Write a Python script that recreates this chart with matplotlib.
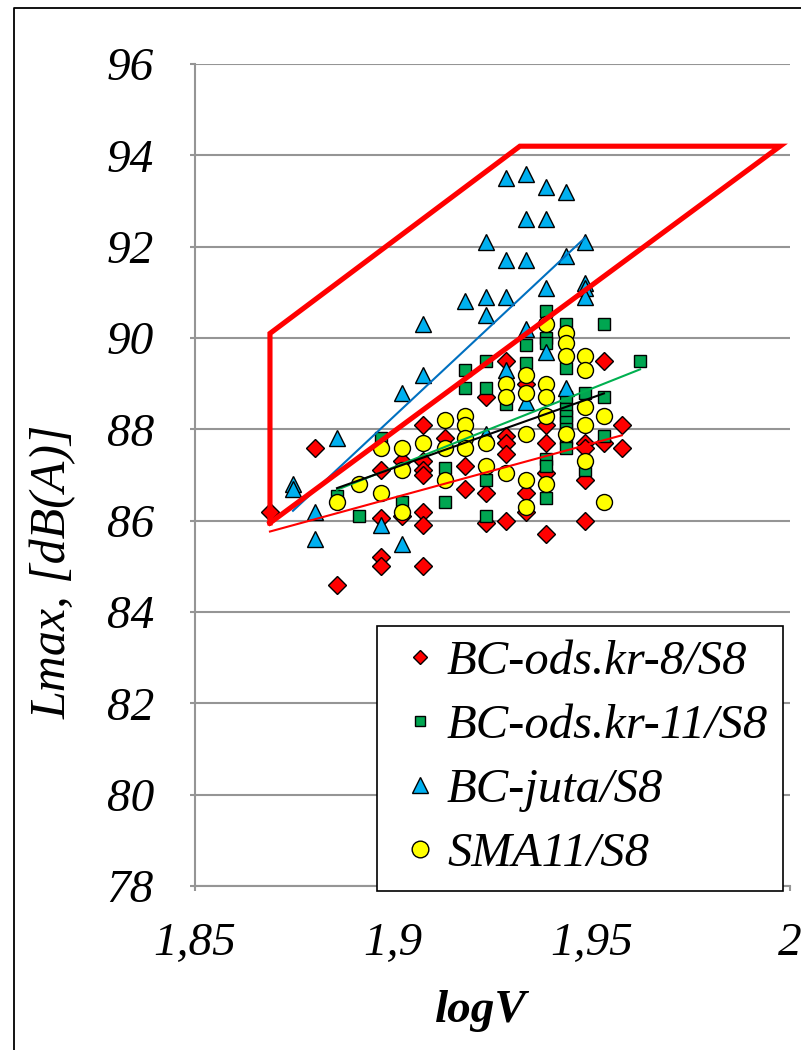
import numpy as np
import matplotlib
matplotlib.use("Agg")
import matplotlib.pyplot as plt
from matplotlib.ticker import FuncFormatter
from matplotlib.lines import Line2D

# ---------------- data ----------------
kr8_x = [1.8689, 1.8803, 1.8858,
         1.8969, 1.8969, 1.8969, 1.8969,
         1.9022, 1.9022,
         1.9075, 1.9075, 1.9075, 1.9075, 1.9075, 1.9075, 1.9075,
         1.9130,
         1.9181, 1.9181,
         1.9234, 1.9234, 1.9234,
         1.9284, 1.9284, 1.9284, 1.9284, 1.9284,
         1.9334, 1.9334, 1.9334,
         1.9385, 1.9385, 1.9385, 1.9385,
         1.9483, 1.9483, 1.9483, 1.9483,
         1.9531, 1.9531,
         1.9576, 1.9576]
kr8_y = [86.2, 87.6, 84.6,
         87.1, 86.05, 85.2, 85.0,
         87.3, 86.1,
         88.1, 87.3, 87.1, 87.0, 86.2, 85.9, 85.0,
         87.8,
         87.2, 86.7,
         88.7, 86.6, 85.95,
         89.5, 87.85, 87.7, 87.45, 86.0,
         89.0, 86.6, 86.2,
         88.1, 87.7, 87.05, 85.7,
         87.7, 87.6, 86.9, 86.0,
         89.5, 87.7,
         88.1, 87.6]

kr11_x = [1.8858, 1.8913, 1.8969, 1.9022,
          1.9130, 1.9130,
          1.9181, 1.9181,
          1.9234, 1.9234, 1.9234, 1.9234,
          1.9284,
          1.9334, 1.9334,
          1.9385, 1.9385, 1.9385, 1.9385, 1.9385, 1.9385,
          1.9435, 1.9435, 1.9435, 1.9435, 1.9435, 1.9435, 1.9435, 1.9435, 1.9435,
          1.9483, 1.9483,
          1.9531, 1.9531, 1.9531,
          1.9622]
kr11_y = [86.55, 86.1, 87.8, 86.4,
          87.15, 86.4,
          89.3, 88.9,
          89.5, 88.9, 86.9, 86.1,
          88.55,
          89.85, 89.45,
          90.6, 90.0, 89.9, 87.35, 87.2, 86.5,
          90.3, 89.35, 88.7, 88.45, 88.3, 88.15, 88.0, 87.8, 87.6,
          88.8, 87.1,
          90.3, 88.7, 87.85,
          89.5]

juta_x = [1.8747, 1.8747, 1.8803, 1.8803, 1.8858, 1.8969,
          1.9022, 1.9022, 1.9075, 1.9075, 1.9181,
          1.9234, 1.9234, 1.9234, 1.9234,
          1.9284, 1.9284, 1.9284, 1.9284,
          1.9334, 1.9334, 1.9334, 1.9334, 1.9334,
          1.9385, 1.9385, 1.9385, 1.9385,
          1.9435, 1.9435, 1.9435,
          1.9483, 1.9483, 1.9483, 1.9483]
juta_y = [86.8, 86.7, 86.2, 85.6, 87.8, 85.9,
          88.8, 85.5, 90.3, 89.2, 90.8,
          92.1, 90.9, 90.5, 87.9,
          93.5, 91.7, 90.9, 89.3,
          93.6, 92.6, 91.7, 90.2, 88.6,
          93.3, 92.6, 91.1, 89.7,
          93.2, 91.8, 88.9,
          92.1, 91.2, 91.1, 90.9]

sma_x = [1.8858, 1.8913, 1.8969, 1.8969,
         1.9022, 1.9022, 1.9022, 1.9075,
         1.9130, 1.9130, 1.9130,
         1.9181, 1.9181, 1.9181, 1.9181,
         1.9234, 1.9234,
         1.9284, 1.9284, 1.9284,
         1.9334, 1.9334, 1.9334, 1.9334, 1.9334,
         1.9385, 1.9385, 1.9385, 1.9385, 1.9385,
         1.9435, 1.9435, 1.9435, 1.9435,
         1.9483, 1.9483, 1.9483, 1.9483, 1.9483,
         1.9531, 1.9531]
sma_y = [86.4, 86.8, 87.6, 86.6,
         87.6, 87.1, 86.2, 87.7,
         88.2, 87.6, 86.9,
         88.3, 88.1, 87.8, 87.6,
         87.7, 87.2,
         89.0, 88.7, 87.05,
         89.2, 88.8, 87.9, 86.9, 86.3,
         90.3, 89.0, 88.7, 88.3, 86.8,
         90.1, 89.9, 89.6, 87.9,
         89.6, 89.3, 88.5, 88.1, 87.3,
         88.3, 86.4]

# red boundary polygon (logV, Lmax)
zone_x = [1.8689, 1.8689, 1.9319, 1.9975, 1.8689]
zone_y = [85.95, 90.1, 94.2, 94.2, 85.95]

labels = ["BC-ods.kr-8/S8", "BC-ods.kr-11/S8", "BC-juta/S8", "SMA11/S8"]
y_ticks = [78, 80, 82, 84, 86, 88, 90, 92, 94, 96]
x_ticks = [1.85, 1.9, 1.95, 2.0]

# ---------------- plot ----------------
plt.rcParams['font.family'] = ['Liberation Serif', 'DejaVu Serif']
FS = 34

fig = plt.figure(figsize=(8.01, 10.5), dpi=100)
ax = fig.add_axes([195/801, 1-886/1050, 595/801, 822/1050])

RED = '#FF0000'
GREEN = '#00A651'
BLUE = '#00B0F0'
YELLOW = '#FFFF00'

ax.plot(kr8_x, kr8_y, ls='none', marker='D', ms=8.8, mfc=RED, mec='black', mew=1.0, zorder=3)
ax.plot(kr11_x, kr11_y, ls='none', marker='s', ms=8.0, mfc=GREEN, mec='black', mew=1.0, zorder=4)
ax.plot(juta_x, juta_y, ls='none', marker='^', ms=12, mfc=BLUE, mec='black', mew=1.0, zorder=5)
ax.plot(sma_x, sma_y, ls='none', marker='o', ms=11.5, mfc=YELLOW, mec='black', mew=1.0, zorder=6)

# linear trend lines over each series' range
for xs, ys, col in [(kr8_x, kr8_y, RED), (kr11_x, kr11_y, '#00B050'),
                    (juta_x, juta_y, '#0070C0'), (sma_x, sma_y, 'black')]:
    xs = np.asarray(xs); ys = np.asarray(ys)
    k, b = np.polyfit(xs, ys, 1)
    xx = np.array([xs.min(), xs.max()])
    ax.plot(xx, k*xx + b, color=col, lw=1.5, zorder=7)

ax.plot(zone_x, zone_y, color=RED, lw=3.7, zorder=8, solid_joinstyle='miter')

ax.set_xlim(1.85, 2.0)
ax.set_ylim(78, 96)
ax.set_xticks(x_ticks)
ax.set_yticks(y_ticks)
fmt = FuncFormatter(lambda v, p: ('%g' % v).replace('.', ','))
ax.xaxis.set_major_formatter(fmt)
ax.yaxis.set_major_formatter(fmt)

ax.grid(axis='y', color='#959595', lw=1.5, zorder=0)
ax.set_axisbelow(True)
for s in ['top', 'right']:
    ax.spines[s].set_visible(False)
for s in ['left', 'bottom']:
    ax.spines[s].set_color('#959595')
    ax.spines[s].set_linewidth(1.5)

ax.tick_params(axis='both', direction='out', length=3.6, width=1.5, color='#959595',
               labelsize=FS)
ax.tick_params(axis='y', pad=26)
ax.tick_params(axis='x', pad=23)
for t in ax.get_xticklabels() + ax.get_yticklabels():
    t.set_fontstyle('italic')

ax.set_xlabel('logV', fontsize=FS, fontweight='bold', fontstyle='italic')
ax.xaxis.set_label_coords(0.48, -0.127)
ax.set_ylabel('Lmax, [dB(A)]', fontsize=36, fontstyle='italic')
ax.yaxis.set_label_coords(-0.198, 0.382)

handles = [
    Line2D([], [], ls='none', marker='D', ms=7.5, mfc=RED, mec='black', mew=1.0),
    Line2D([], [], ls='none', marker='s', ms=7.5, mfc=GREEN, mec='black', mew=1.0),
    Line2D([], [], ls='none', marker='^', ms=12, mfc=BLUE, mec='black', mew=1.0),
    Line2D([], [], ls='none', marker='o', ms=12, mfc=YELLOW, mec='black', mew=1.0),
]
leg = ax.legend(handles, labels, loc='lower right', bbox_to_anchor=(0.988, -0.006),
                borderaxespad=0, fancybox=False, framealpha=1, edgecolor='black',
                prop={'family': 'Liberation Serif', 'style': 'italic', 'size': 35},
                handlelength=1.2, handletextpad=-0.05, labelspacing=0.41,
                borderpad=0.3)
leg.get_frame().set_linewidth(1.2)
leg.set_zorder(10)

# outer frame: left and top edges only
fig.add_artist(Line2D([14/801, 14/801, 1.0], [0.0, 1-8/1050, 1-8/1050],
                      transform=fig.transFigure, color='black', lw=1.3))

fig.savefig('out.png', dpi=100)
